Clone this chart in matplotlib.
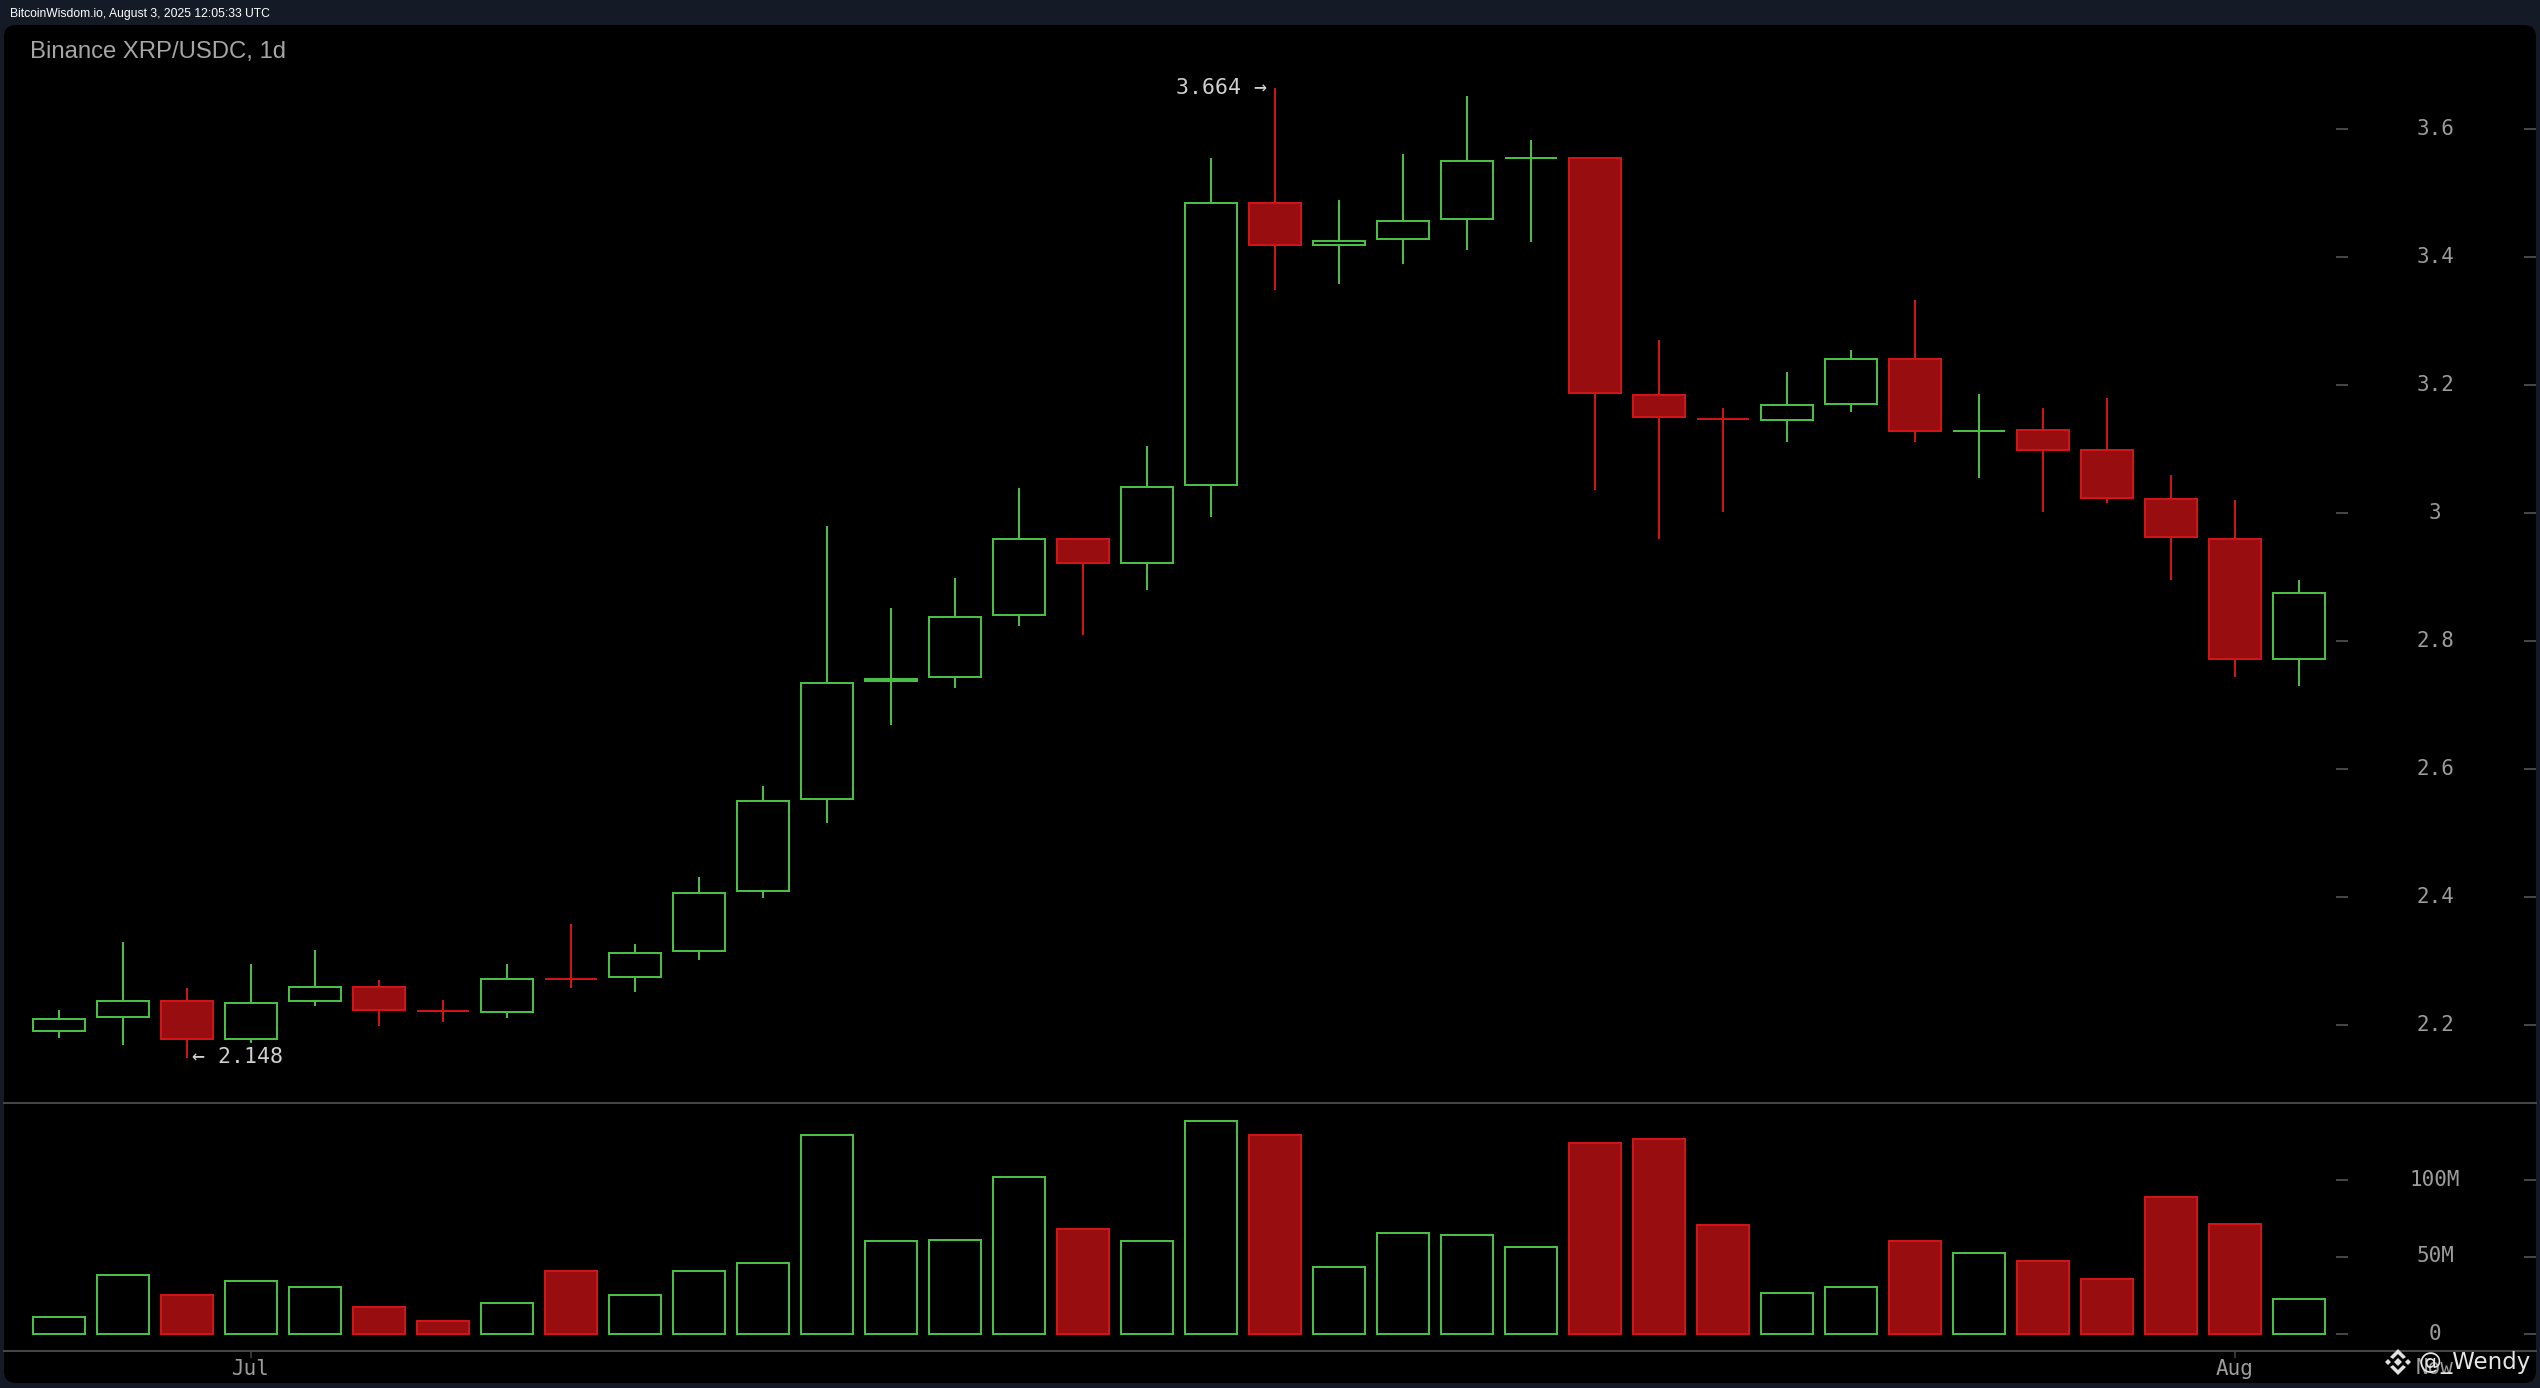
import matplotlib
matplotlib.use('Agg')
import matplotlib.pyplot as plt
from matplotlib.patches import FancyBboxPatch, Polygon
from matplotlib.transforms import blended_transform_factory

# Daily XRP/USDC candles
opens = [2.190, 2.212, 2.238, 2.178, 2.237, 2.260, 2.222, 2.221, 2.272, 2.275,
         2.316, 2.409, 2.553, 2.737, 2.744, 2.841, 2.959, 2.922, 3.044, 3.485,
         3.418, 3.428, 3.459, 3.554, 3.554, 3.185, 3.147, 3.146, 3.171, 3.241,
         3.128, 3.129, 3.098, 3.022, 2.960, 2.772]
closes = [2.210, 2.238, 2.178, 2.235, 2.260, 2.224, 2.222, 2.272, 2.272, 2.313,
          2.407, 2.550, 2.735, 2.741, 2.838, 2.959, 2.922, 3.041, 3.485, 3.418,
          3.425, 3.457, 3.550, 3.554, 3.187, 3.150, 3.147, 3.169, 3.241, 3.128,
          3.128, 3.099, 3.024, 2.962, 2.772, 2.875]
highs = [2.223, 2.330, 2.258, 2.295, 2.317, 2.270, 2.239, 2.295, 2.358, 2.327,
         2.432, 2.573, 2.980, 2.852, 2.898, 3.039, 2.959, 3.105, 3.555, 3.664,
         3.489, 3.561, 3.652, 3.583, 3.554, 3.270, 3.164, 3.220, 3.254, 3.333,
         3.186, 3.164, 3.180, 3.060, 3.020, 2.895]
lows = [2.180, 2.168, 2.148, 2.172, 2.230, 2.198, 2.205, 2.211, 2.258, 2.252,
        2.302, 2.399, 2.515, 2.668, 2.727, 2.824, 2.809, 2.880, 2.993, 3.348,
        3.358, 3.389, 3.411, 3.423, 3.036, 2.959, 3.002, 3.111, 3.158, 3.111,
        3.055, 3.002, 3.015, 2.896, 2.743, 2.730]
# Volume in millions
volumes = [10.8, 38, 25, 34, 30, 17.3, 8.2, 20, 40.7, 25, 40.5, 45.7,
           128.8, 60, 61, 101.4, 67.7, 60, 138, 128.8, 43, 65, 63.9, 56,
           123.6, 126.2, 70.3, 26.2, 30, 60, 52.1, 47, 35.3, 88.8, 71, 22.7]
# Which candles closed down (dojis can't be told from the numbers alone)
is_down = [False, False, True, False, False, True, True, False, True, False,
           False, False, False, False, False, False, True, False, False, True,
           False, False, False, False, True, True, True, False, False, True,
           False, True, True, True, True, False]

price_ticks = [2.2, 2.4, 2.6, 2.8, 3.0, 3.2, 3.4, 3.6]
price_labels = ['2.2', '2.4', '2.6', '2.8', '3', '3.2', '3.4', '3.6']
volume_ticks = [0, 50, 100]
volume_labels = ['0', '50M', '100M']
month_ticks = [3, 34]
month_labels = ['Jul', 'Aug']

W, H = 2540, 1388
BG = '#141a26'
GREEN = '#4abf45'
RED_EDGE = '#cf1518'
RED_FILL = '#980e10'
GRID = '#454545'
LABEL = '#9c9c9c'
PX = 0.72  # one pixel in points at dpi 100


def panel_axes(left, top, right, bottom, zorder):
    ax = fig.add_axes([left / W, 1 - bottom / H, (right - left) / W, (bottom - top) / H], zorder=zorder)
    ax.patch.set_visible(False)
    return ax


fig = plt.figure(figsize=(W / 100, H / 100), dpi=100, facecolor=BG)

# Black rounded panel behind everything
ax_bg = panel_axes(0, 0, W, H, 0)
ax_bg.set_xlim(0, W)
ax_bg.set_ylim(H, 0)
ax_bg.axis('off')
ax_bg.add_patch(FancyBboxPatch((4, 25), 2532, 1358, boxstyle='round,pad=0,rounding_size=12',
                               mutation_aspect=1, facecolor='black', edgecolor='none'))
ax_bg.text(10, 14, 'BitcoinWisdom.io, August 3, 2025 12:05:33 UTC', color='white',
           fontfamily='Liberation Sans', fontsize=8.7, va='center', ha='left')
ax_bg.text(30, 52, 'Binance XRP/USDC, 1d', color='#a6a6a6',
           fontfamily='Liberation Sans', fontsize=17.2, va='center', ha='left')

x_left = (4 - 59) / 64
x_right = (2536 - 59) / 64
xs = list(range(len(opens)))

# Price panel
ax = panel_axes(4, 25, 2536, 1103, 2)
ax.set_xlim(x_left, x_right)
ax.set_ylim(2.8 + (641 - 1103) / 640, 2.8 + (641 - 25) / 640)
for i in xs:
    color = RED_EDGE if is_down[i] else GREEN
    ax.vlines(i, lows[i], highs[i], color=color, linewidth=2 * PX, zorder=2)
    ax.bar(i, abs(closes[i] - opens[i]), bottom=min(opens[i], closes[i]), width=0.8,
           facecolor=RED_FILL if is_down[i] else 'black', edgecolor=color, linewidth=2 * PX, zorder=3)

ax.annotate('3.664 →', xy=(19, 3.664), xytext=(-8 * PX, 0.5 * PX), textcoords='offset points',
            ha='right', va='center', color='#d0d0d0', fontfamily='DejaVu Sans Mono', fontsize=15.5)
ax.annotate('← 2.148', xy=(2, 2.148), xytext=(5 * PX, 1.5 * PX), textcoords='offset points',
            ha='left', va='center', color='#d0d0d0', fontfamily='DejaVu Sans Mono', fontsize=15.5)

# Volume panel
ax_vol = panel_axes(4, 1103, 2536, 1351, 2)
ax_vol.set_xlim(x_left, x_right)
ax_vol.set_ylim(-(1351 - 1333.5) / 1.54, (1333.5 - 1103) / 1.54)
for i in xs:
    ax_vol.bar(i, volumes[i], width=0.8, facecolor=RED_FILL if is_down[i] else 'black',
               edgecolor=RED_EDGE if is_down[i] else GREEN, linewidth=2 * PX, zorder=3)

# Axis styling shared by the two panels
for a, ticks, labels in [(ax, price_ticks, price_labels), (ax_vol, volume_ticks, volume_labels)]:
    for side in ['left', 'right', 'top', 'bottom']:
        a.spines[side].set_visible(False)
    a.yaxis.tick_right()
    a.set_yticks(ticks)
    a.set_yticklabels(labels, ha='center', va='center', color=LABEL,
                      fontfamily='DejaVu Sans Mono', fontsize=15)
    a.tick_params(axis='y', direction='in', length=12 * PX, width=2 * PX, color=GRID, pad=-101 * PX)
    # second set of tick dashes just right of the candles
    trans = blended_transform_factory(a.transAxes, a.transData)
    a.hlines(ticks, (2336 - 4) / 2532, (2348 - 4) / 2532, transform=trans, color=GRID, linewidth=2 * PX)

ax.set_xticks([])
for side in ['top', 'bottom']:
    ax_vol.spines[side].set_visible(True)
    ax_vol.spines[side].set_color(GRID)
    ax_vol.spines[side].set_linewidth(2 * PX)
ax_vol.set_xticks(month_ticks)
ax_vol.set_xticklabels(month_labels, color=LABEL, fontfamily='DejaVu Sans Mono', fontsize=15)
ax_vol.tick_params(axis='x', direction='out', length=7 * PX, width=1.5 * PX, color=GRID, pad=1)
ax_vol.text((2435 - 59) / 64, 1368, 'Now', color=LABEL, fontfamily='DejaVu Sans Mono', fontsize=15,
            ha='center', va='center',
            transform=blended_transform_factory(ax_vol.transData, ax_bg.transData))

# Watermark sits on top of the axis labels
ax_mark = panel_axes(0, 0, W, H, 5)
ax_mark.set_xlim(0, W)
ax_mark.set_ylim(H, 0)
ax_mark.axis('off')
ax_mark.text(2418, 1362, '@_Wendy', color='#e6e6e6', fontfamily='DejaVu Sans', fontsize=16.5,
             ha='left', va='center')
cx, cy = 2398, 1362
logo = [
    [(cx, cy - 4), (cx + 4, cy), (cx, cy + 4), (cx - 4, cy)],
    [(cx - 13, cy), (cx - 10, cy - 3), (cx - 7, cy), (cx - 10, cy + 3)],
    [(cx + 13, cy), (cx + 10, cy - 3), (cx + 7, cy), (cx + 10, cy + 3)],
    [(cx, cy - 13), (cx + 8, cy - 5), (cx + 5, cy - 3), (cx, cy - 8), (cx - 5, cy - 3), (cx - 8, cy - 5)],
    [(cx, cy + 13), (cx + 8, cy + 5), (cx + 5, cy + 3), (cx, cy + 8), (cx - 5, cy + 3), (cx - 8, cy + 5)],
]
for pts in logo:
    ax_mark.add_patch(Polygon(pts, closed=True, facecolor='#e0e0e0', edgecolor='none'))

plt.savefig('out.png', dpi=100, facecolor=BG)
